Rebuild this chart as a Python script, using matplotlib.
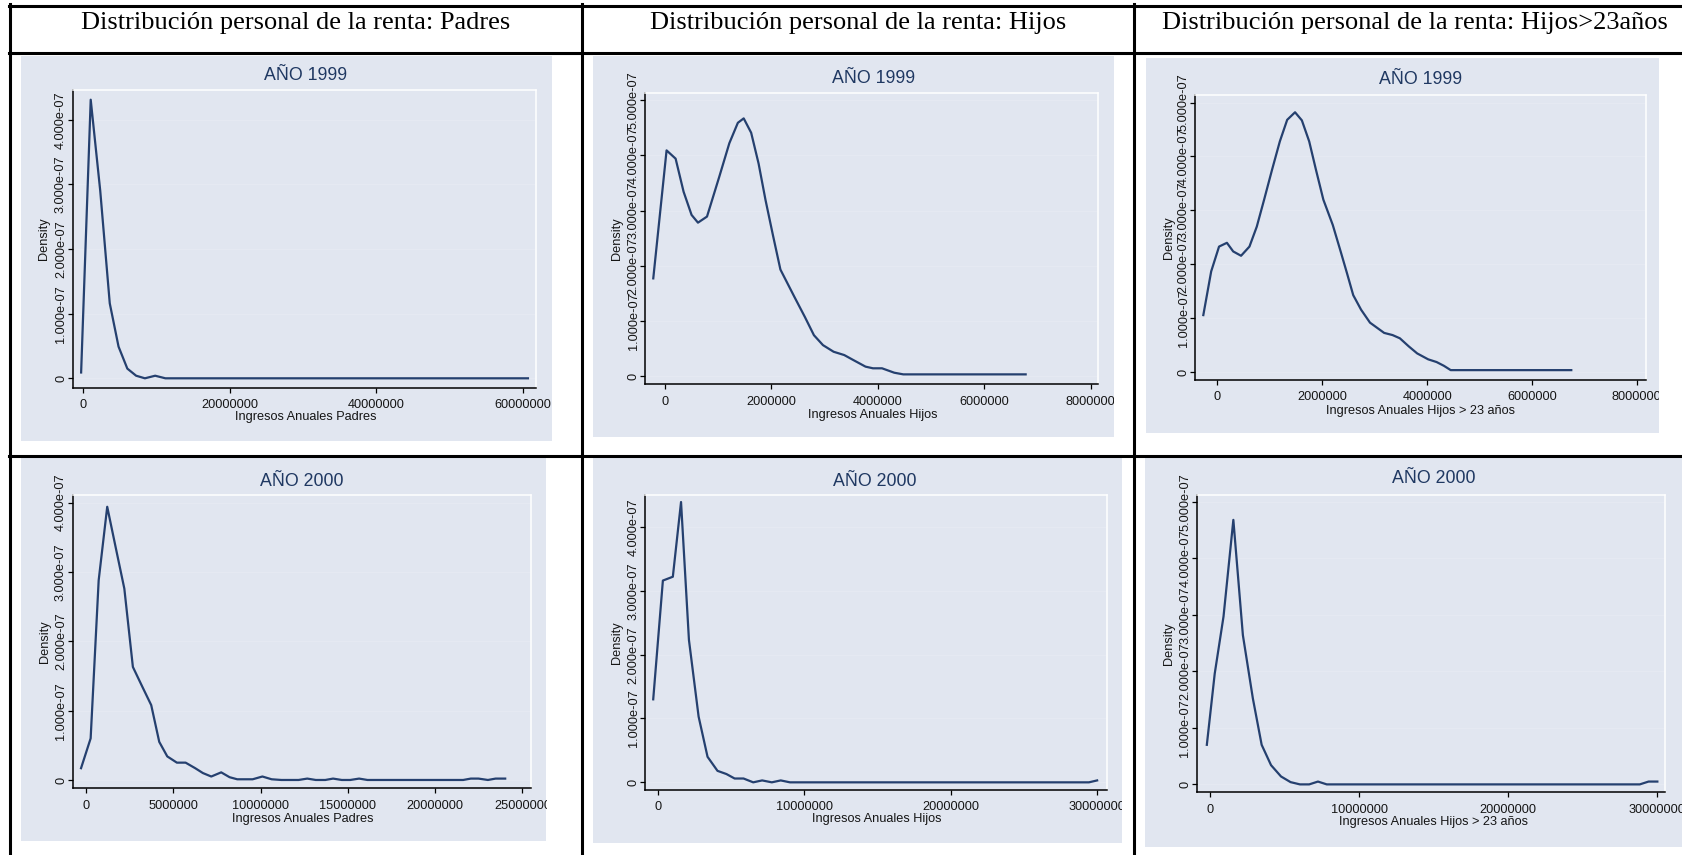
import numpy as np
import matplotlib.pyplot as plt
from matplotlib.lines import Line2D
from matplotlib.patches import Rectangle
from matplotlib.ticker import FuncFormatter

# Encabezados de la tabla
headers = ["Distribución personal de la renta: Padres",
           "Distribución personal de la renta: Hijos",
           "Distribución personal de la renta: Hijos>23años"]

# Curvas kdensity (x en millones, densidad en 1e-07)
padres99_x = [-0.31, 1.0, 2.3, 3.6, 4.8, 6.0, 7.2, 8.4, 9.8, 11.2, 60.7]
padres99_y = [0.09, 4.31, 2.9, 1.16, 0.49, 0.15, 0.04, 0.0, 0.04, 0.0, 0.0]

hijos99_x = [-0.22, 0.03, 0.20, 0.35, 0.50, 0.62, 0.79, 1.02, 1.21, 1.37, 1.48, 1.62,
             1.76, 1.89, 2.03, 2.17, 2.43, 2.63, 2.80, 2.97, 3.17, 3.37, 3.54, 3.77,
             3.91, 4.08, 4.31, 4.48, 6.78]
hijos99_y = [1.77, 4.09, 3.94, 3.34, 2.92, 2.78, 2.89, 3.61, 4.22, 4.59, 4.67, 4.41,
             3.85, 3.19, 2.55, 1.93, 1.44, 1.07, 0.74, 0.56, 0.44, 0.38, 0.29, 0.17,
             0.14, 0.14, 0.06, 0.03, 0.03]

hijos23_99_x = [-0.27, -0.12, 0.03, 0.18, 0.30, 0.45, 0.61, 0.75, 0.89, 1.04, 1.19, 1.33,
                1.48, 1.61, 1.75, 1.88, 2.02, 2.20, 2.35, 2.47, 2.59, 2.74, 2.91, 3.18,
                3.34, 3.48, 3.65, 3.81, 4.02, 4.18, 4.32, 4.45, 6.75]
hijos23_99_y = [1.06, 1.87, 2.33, 2.40, 2.24, 2.16, 2.33, 2.70, 3.20, 3.75, 4.28, 4.68,
                4.82, 4.67, 4.28, 3.75, 3.20, 2.73, 2.24, 1.84, 1.43, 1.16, 0.92, 0.73,
                0.69, 0.63, 0.48, 0.35, 0.24, 0.19, 0.12, 0.04, 0.04]

padres00_x = [-0.29, 0.26, 0.72, 1.21, 1.69, 2.19, 2.68, 3.23, 3.73, 4.19, 4.65, 5.2,
              5.7, 6.25, 6.69, 7.17, 7.74, 8.22, 8.66, 9.54, 10.1, 10.63, 11.19, 12.17,
              12.67, 13.16, 13.7, 14.15, 14.65, 15.13, 15.64, 16.12, 21.6, 22.04, 22.48,
              23.02, 23.46, 24.01]
padres00_y = [0.17, 0.60, 2.88, 3.94, 3.36, 2.76, 1.63, 1.34, 1.08, 0.55, 0.34, 0.25,
              0.25, 0.17, 0.10, 0.05, 0.11, 0.04, 0.01, 0.01, 0.05, 0.01, 0.0, 0.0,
              0.02, 0.0, 0.0, 0.02, 0.0, 0.0, 0.02, 0.0, 0.0, 0.02, 0.02,
              0.0, 0.02, 0.02]

hijos00_x = [-0.32, 0.34, 1.02, 1.58, 2.12, 2.78, 3.39, 4.07, 4.68, 5.24, 5.85, 6.51,
             7.12, 7.78, 8.39, 9.02, 29.44, 30.0]
hijos00_y = [1.30, 3.16, 3.22, 4.39, 2.23, 1.03, 0.40, 0.18, 0.13, 0.06, 0.06, 0.0,
             0.03, 0.0, 0.03, 0.0, 0.0, 0.03]

hijos23_00_x = [-0.24, 0.29, 0.88, 1.54, 2.18, 2.85, 3.44, 4.07, 4.74, 5.38, 6.01, 6.63,
                7.22, 7.81, 28.82, 29.41, 30.0]
hijos23_00_y = [0.70, 1.96, 2.97, 4.68, 2.64, 1.52, 0.70, 0.34, 0.14, 0.04, 0.0, 0.0,
                0.05, 0.0, 0.0, 0.05, 0.05]

# Marcas de los ejes
xt_padres99 = [0, 20000000, 40000000, 60000000]
xt_hijos99 = [0, 2000000, 4000000, 6000000, 8000000]
xt_padres00 = [0, 5000000, 10000000, 15000000, 20000000, 25000000]
xt_hijos00 = [0, 10000000, 20000000, 30000000]
yt_4 = [0, 1e-7, 2e-7, 3e-7, 4e-7]
yt_5 = [0, 1e-7, 2e-7, 3e-7, 4e-7, 5e-7]

W, H = 1683, 855
BG = '#e1e6f0'
NAVY = '#25406f'
SANS = 'Liberation Sans'

fig = plt.figure(figsize=(W / 100, H / 100), dpi=100)


def fx(px):
    return px / W


def fy(py):
    return 1 - py / H


def rect(l, t, r, b):
    return [l / W, 1 - b / H, (r - l) / W, (b - t) / H]


def fig_rect(l, t, r, b, color, z):
    fig.add_artist(Rectangle((fx(l), fy(b)), (r - l) / W, (b - t) / H,
                             transform=fig.transFigure, facecolor=color,
                             edgecolor='none', zorder=z))


def panel(bg, box, xs, ys, xlim, ylim, xticks, yticks, title, title_xy,
          xlabel, xlabel_xy, ylabel_x):
    fig_rect(*bg, BG, -1)
    ax = fig.add_axes(rect(*box))
    ax.set_facecolor(BG)
    ax.plot(np.array(xs) * 1e6, np.array(ys) * 1e-7, color=NAVY, lw=1.6)
    ax.set_xlim(*xlim)
    ax.set_ylim(*ylim)
    ax.set_xticks(xticks)
    ax.set_yticks(yticks)
    ax.xaxis.set_major_formatter(FuncFormatter(lambda v, p: f'{v:.0f}'))
    ax.yaxis.set_major_formatter(FuncFormatter(lambda v, p: '0' if v == 0 else f'{v:.3e}'))
    ax.yaxis.grid(True, color='white', lw=0.8, alpha=0.15)
    ax.set_axisbelow(True)
    for s in ['top', 'right']:
        ax.spines[s].set_color('white')
        ax.spines[s].set_linewidth(1.1)
    for s in ['left', 'bottom']:
        ax.spines[s].set_color('black')
        ax.spines[s].set_linewidth(1.1)
    ax.tick_params(direction='out', length=3.6, width=0.9, labelsize=9.2,
                   labelcolor='#151515')
    ax.tick_params(axis='x', pad=4.5)
    ax.tick_params(axis='y', pad=0.5)
    for lab in ax.get_xticklabels() + ax.get_yticklabels():
        lab.set_fontfamily(SANS)
    for lab in ax.get_yticklabels():
        lab.set_rotation(90)
        lab.set_va('center')
    ax.set_xlabel(xlabel, fontsize=9.2, family=SANS, color='#151515')
    ax.xaxis.set_label_coords(fx(xlabel_xy[0]), fy(xlabel_xy[1]), transform=fig.transFigure)
    ax.xaxis.label.set_va('center')
    ax.set_ylabel('Density', fontsize=9.2, family=SANS, color='#151515')
    ax.yaxis.set_label_coords(fx(ylabel_x), fy((box[1] + box[3]) / 2), transform=fig.transFigure)
    ax.yaxis.label.set_va('center')
    fig.text(fx(title_xy[0]), fy(title_xy[1]), title, ha='center', va='center',
             fontsize=12.8, family=SANS, color='#1f3862')
    return ax


panel((21, 56, 552, 441), (72.7, 90, 536, 388), padres99_x, padres99_y,
      (-1.46e6, 6.18e7), (-0.150e-7, 4.46e-7), xt_padres99, yt_4,
      'AÑO 1999', (306, 76), 'Ingresos Anuales Padres', (306, 417), 44)
panel((592.5, 56, 1114, 437), (645.4, 93, 1098, 384.3), hijos99_x, hijos99_y,
      (-0.368e6, 8.14e6), (-0.15e-7, 5.13e-7), xt_hijos99, yt_5,
      'AÑO 1999', (873.6, 78), 'Ingresos Anuales Hijos', (872.5, 415), 617.5)
panel((1146, 58, 1659, 433), (1195.3, 95, 1645.7, 380), hijos23_99_x, hijos23_99_y,
      (-0.423e6, 8.17e6), (-0.143e-7, 5.14e-7), xt_hijos99, yt_5,
      'AÑO 1999', (1421, 80), 'Ingresos Anuales Hijos > 23 años', (1421, 410.7), 1168.8)
panel((21, 458, 546.5, 841), (72.7, 495, 531.2, 788.3), padres00_x, padres00_y,
      (-0.768e6, 25.5e6), (-0.12e-7, 4.11e-7), xt_padres00, yt_4,
      'AÑO 2000', (301.6, 481), 'Ingresos Anuales Padres', (303, 819), 45.2)
panel((592.5, 458, 1122, 843), (645.4, 495, 1106.8, 790), hijos00_x, hijos00_y,
      (-0.854e6, 30.66e6), (-0.12e-7, 4.5e-7), xt_hijos00, yt_4,
      'AÑO 2000', (874.6, 481), 'Ingresos Anuales Hijos', (877, 819), 617.5)
panel((1145, 457, 1683, 847), (1197, 495, 1665.4, 792.3), hijos23_00_x, hijos23_00_y,
      (-0.9e6, 30.54e6), (-0.14e-7, 5.12e-7), xt_hijos00, yt_5,
      'AÑO 2000', (1433.4, 478.3), 'Ingresos Anuales Hijos > 23 años', (1433.7, 822.3), 1168.8)

# recorte de las imágenes dentro de las celdas
for l, t, r, b in [(552, 55, 592.5, 456), (1114, 55, 1146, 456), (1659, 55, 1683, 456),
                   (546.5, 457, 592.5, 855), (1122, 457, 1145, 855)]:
    fig_rect(l, t, r, b, 'white', 5)

# líneas de la tabla
LW = 2.2
for y in [6, 53, 456]:
    fig.add_artist(Line2D([fx(8.5), fx(W)], [fy(y), fy(y)], color='black', lw=LW,
                          transform=fig.transFigure, zorder=10))
for x in [10, 582, 1134]:
    fig.add_artist(Line2D([fx(x), fx(x)], [fy(4.5), fy(H)], color='black', lw=LW,
                          transform=fig.transFigure, zorder=10))

for cx, txt in zip([296, 858, 1415], headers):
    fig.text(fx(cx), fy(29), txt, ha='center', va='baseline', fontsize=19,
             family='Liberation Serif', color='black')

fig.savefig('out.png', dpi=100)
